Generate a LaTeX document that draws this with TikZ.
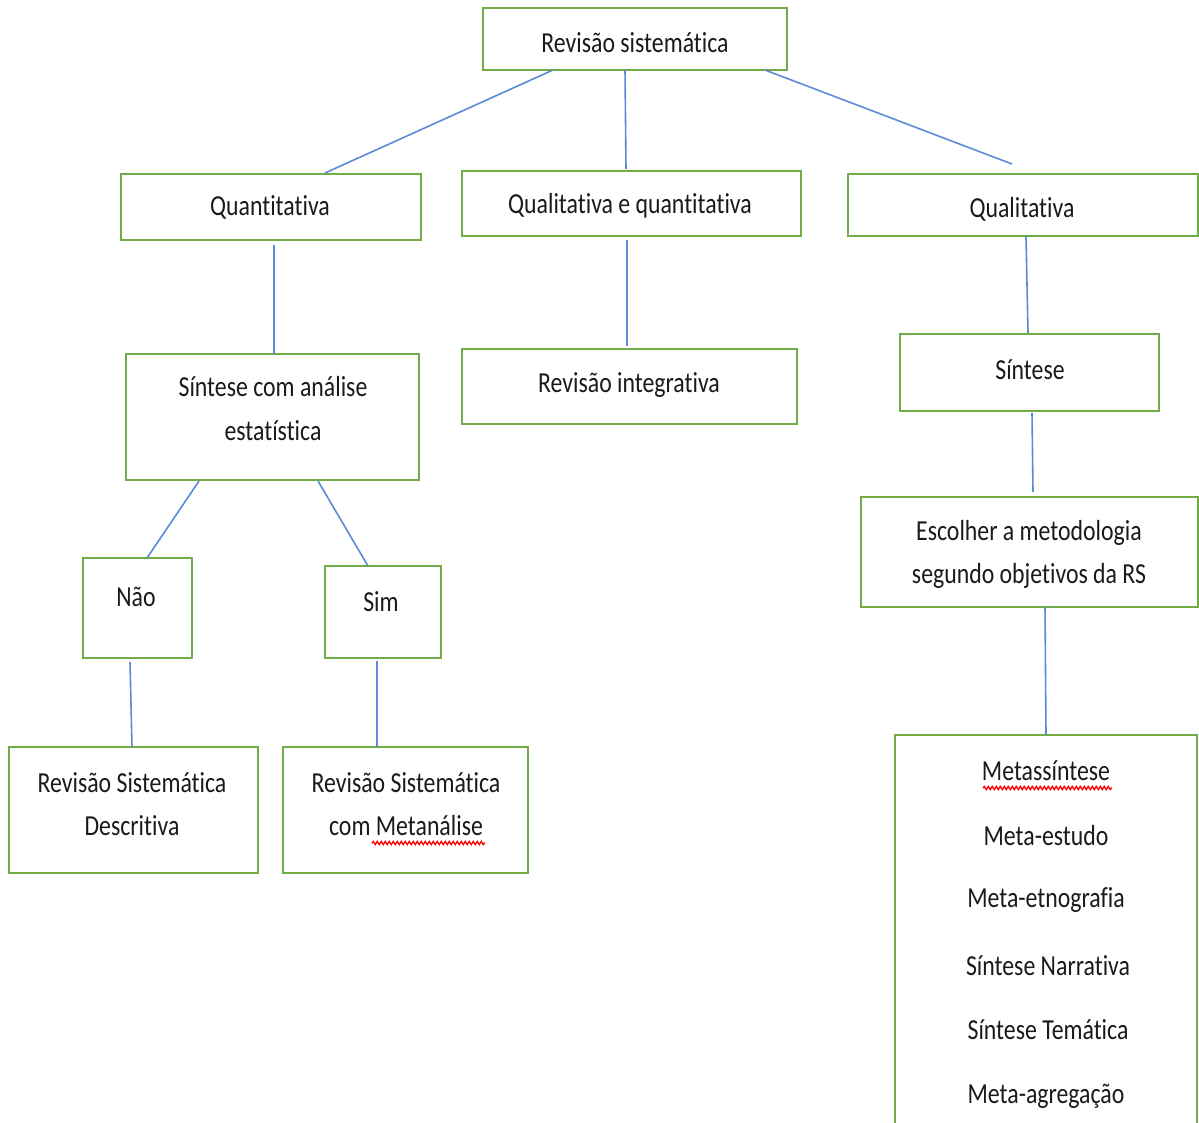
\documentclass[tikz,border=0pt]{standalone}
\usepackage{fontspec}
\setmainfont{Carlito}[FakeStretch=0.82, Ligatures={NoCommon}]
\usetikzlibrary{decorations.pathmorphing}
\definecolor{boxgreen}{HTML}{70AD47}
\definecolor{linkblue}{HTML}{5B8BD6}
\definecolor{txt}{HTML}{1A1A1A}
\tikzset{
  box/.style={draw=boxgreen, line width=2pt, fill=white},
  lbl/.style={text=txt, font=\fontsize{29}{44}\selectfont, inner sep=0pt, align=center},
  link/.style={draw=linkblue, line width=1.6pt},
  wavy/.style={draw=red, line width=1.3pt, decorate, decoration={snake, segment length=4pt, amplitude=1.6pt}}
}
\begin{document}
\begin{tikzpicture}[x=1pt,y=-1pt]
\useasboundingbox (0,0) rectangle (1199,1122);
% boxes
\draw[box] (483,8) rectangle (787,70);
\node[lbl] (t) at (635,43) {Revisão sistemática};
\draw[box] (121,174) rectangle (421,240);
\node[lbl] (qt) at (270,207) {Quantitativa};
\draw[box] (462,171) rectangle (801,236);
\node[lbl] (qq) at (630,206) {Qualitativa e quantitativa};
\draw[box] (848,174) rectangle (1198,236);
\node[lbl] (ql) at (1022,209) {Qualitativa};
\draw[box] (126,354) rectangle (419,480);
\node[lbl] (sa1) at (273,387) {Síntese com análise};
\node[lbl] (sa2) at (273,431) {estatística};
\draw[box] (462,349) rectangle (797,424);
\node[lbl] (ri) at (629,385) {Revisão integrativa};
\draw[box] (900,334) rectangle (1159,411);
\node[lbl] (si) at (1030,370) {Síntese};
\draw[box] (861,497) rectangle (1198,607);
\node[lbl] (es1) at (1029,533) {Escolher a metodologia};
\node[lbl] (es2) at (1029,576) {segundo objetivos da RS};
\draw[box] (83,558) rectangle (192,658);
\node[lbl] (nao) at (136,597) {Não};
\draw[box] (325,566) rectangle (441,658);
\node[lbl] (sim) at (381,602) {Sim};
\draw[box] (9,747) rectangle (258,873);
\node[lbl] (rd1) at (132,783) {Revisão Sistemática};
\node[lbl] (rd2) at (132,826) {Descritiva};
\draw[box] (283,747) rectangle (528,873);
\node[lbl] (rm1) at (406,783) {Revisão Sistemática};
\node[lbl] (rm2) at (406,826) {com Metanálise};
\draw[box] (895,1124) -- (895,735) -- (1197,735) -- (1197,1124);
\node[lbl] (m1) at (1046,771) {Metassíntese};
\node[lbl] (m2) at (1046,836) {Meta-estudo};
\node[lbl] (m3) at (1046,900) {Meta-etnografia};
\node[lbl] (m4) at (1048,966) {Síntese Narrativa};
\node[lbl] (m5) at (1048,1030) {Síntese Temática};
\node[lbl] (m6) at (1046,1096) {Meta-agregação};
% spelling underlines
\draw[wavy] (983,788) -- (1112,788);
\draw[wavy] (372,843) -- (485,843);
% connector ends
\coordinate (a1) at (553,70);  \coordinate (a2) at (325,173);
\coordinate (b1) at (625,70);  \coordinate (b2) at (626,169);
\coordinate (c1) at (765,70);  \coordinate (c2) at (1012,164);
\coordinate (d1) at (274,245); \coordinate (d2) at (274,354);
\coordinate (e1) at (627,240); \coordinate (e2) at (627,346);
\coordinate (f1) at (1026,236);\coordinate (f2) at (1028,333);
\coordinate (g1) at (1032,413);\coordinate (g2) at (1033,492);
\coordinate (h1) at (1045,607);\coordinate (h2) at (1046,735);
\coordinate (i1) at (199,481); \coordinate (i2) at (147,558);
\coordinate (j1) at (318,481); \coordinate (j2) at (368,566);
\coordinate (k1) at (130,662); \coordinate (k2) at (132,747);
\coordinate (l1) at (377,661); \coordinate (l2) at (377,747);
\foreach \p/\q in {a1/a2,b1/b2,c1/c2,d1/d2,e1/e2,f1/f2,g1/g2,h1/h2,i1/i2,j1/j2,k1/k2,l1/l2}
  \draw[link] (\p) -- (\q);
\end{tikzpicture}
\end{document}
